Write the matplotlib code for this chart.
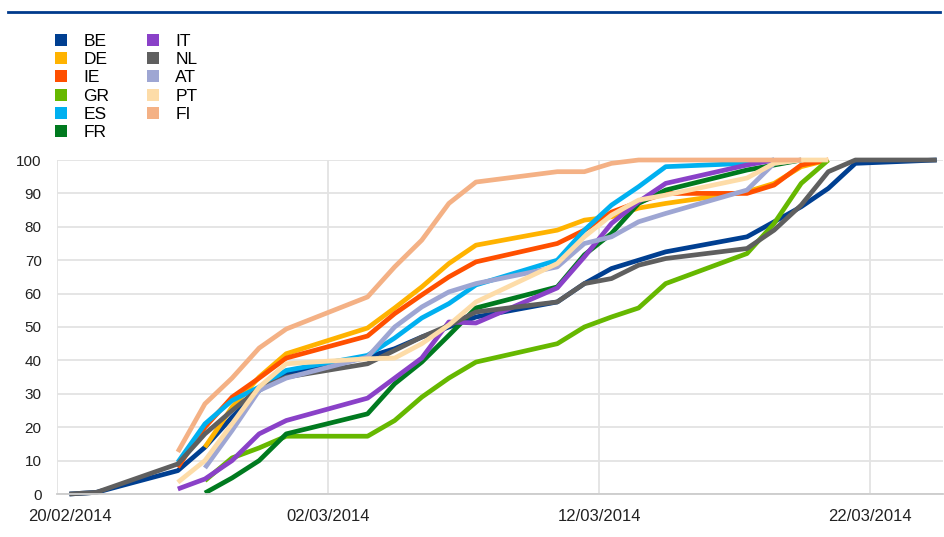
import numpy as np
import pandas as pd
import matplotlib
matplotlib.use('Agg')
import matplotlib.pyplot as plt
import matplotlib.transforms as mtransforms
from matplotlib.lines import Line2D

plt.rcParams['font.family'] = ['Liberation Sans', 'DejaVu Sans']

dates = ['2014-02-20', '2014-02-21', '2014-02-24', '2014-02-25', '2014-02-26',
         '2014-02-27', '2014-02-28', '2014-03-03', '2014-03-04', '2014-03-05',
         '2014-03-06', '2014-03-07', '2014-03-10', '2014-03-11', '2014-03-12',
         '2014-03-13', '2014-03-14', '2014-03-17', '2014-03-18', '2014-03-19',
         '2014-03-20', '2014-03-21', '2014-03-24']
nan = np.nan

BE = [0, 0.5, 7, 14, 23, 31, 36, 41, 43.5, 47, 50, 53, 57.5, 63, 67.5, 70, 72.5, 77, 81.5, 86, 91.5, 99, 100]
DE = [nan, nan, nan, 14, 26, 35, 42, 49.7, 55.7, 62, 69, 74.5, 79, 82, 83, 85.6, 87, 90.5, 93, 98, 100, nan, nan]
IE = [nan, nan, 8, 20, 29, 34.7, 40.7, 47.3, 54, 59.6, 65, 69.5, 75, 79, 84.4, 87.4, 90, 90, 92.5, 98.5, 100, nan, nan]
GR = [nan, nan, nan, 4, 10.8, 13.8, 17.3, 17.3, 22, 29, 34.7, 39.5, 45, 50, 53, 55.7, 63, 72, 81, 93, 100, nan, nan]
ES = [nan, nan, 9.5, 21, 28, 32, 37, 41.5, 46.7, 52.7, 57, 62.6, 70, 79, 86.5, 92, 98, 99, 100, nan, nan, nan, nan]
FR = [nan, nan, nan, 0.3, 4.8, 10, 18, 24, 33, 39.5, 47.5, 55.7, 62, 71.6, 78, 87, 91, 97, 98.5, 100, nan, nan, nan]
IT = [nan, nan, 1.5, 4.5, 10, 18, 22, 28.7, 34.7, 40.7, 51.5, 51.2, 61.7, 71, 81, 87.5, 93, 98.5, 100, nan, nan, nan, nan]
NL = [0, 0.5, 9, 18, 25, 31.5, 35, 39, 43, 47, 50.5, 54.5, 57.5, 63, 64.5, 68.5, 70.5, 73.5, 79, 86.5, 96.5, 100, 100]
AT = [nan, nan, nan, 7.8, 19, 31, 34.7, 41, 50, 56, 60.5, 63, 68, 75, 77, 81.5, 84, 91, 99, 100, nan, nan, nan]
PT = [nan, nan, 3.5, 10, 21, 32, 39, 40.5, 40.7, 45, 50.6, 57.5, 69, 77, 83.5, 88, 89.5, 94.6, 99, 100, 100, nan, nan]
FI = [nan, nan, 12.6, 27, 34.7, 43.7, 49.4, 59, 68, 76, 87, 93.4, 96.5, 96.5, 99, 100, 100, 100, 100, 100, nan, nan, nan]

countries = ['BE', 'DE', 'IE', 'GR', 'ES', 'FR', 'IT', 'NL', 'AT', 'PT', 'FI']
series = [BE, DE, IE, GR, ES, FR, IT, NL, AT, PT, FI]
colors = ['#003f91', '#ffb300', '#ff4f00', '#66b800', '#00b0f0', '#007a1f',
          '#8a41c8', '#5f5f5f', '#9ea6d3', '#fddca8', '#f4b185']

tick_dates = ['2014-02-20', '2014-03-02', '2014-03-12', '2014-03-22']

x = pd.to_datetime(dates) + pd.Timedelta(hours=11)
start = pd.Timestamp('2014-02-20')

fig = plt.figure(figsize=(9.44, 5.37), dpi=100)
ax = fig.add_axes([57 / 944, 43 / 537, 886 / 944, 334 / 537])

for name, vals, c in zip(countries, series, colors):
    ax.plot(x, vals, color=c, lw=3.4, label=name, solid_joinstyle='round',
            solid_capstyle='butt', clip_on=False)

ax.set_xlim(start, start + pd.Timedelta(days=32.69))
ax.set_ylim(0, 100)
ax.set_yticks(np.arange(0, 101, 10))
ax.set_xticks(pd.to_datetime(tick_dates))
ax.set_xticklabels([pd.Timestamp(d).strftime('%d/%m/%Y') for d in tick_dates])
ax.tick_params(axis='both', length=0, colors='#222222')
ax.tick_params(axis='y', pad=11, labelsize=11)
ax.tick_params(axis='x', pad=11, labelsize=12)
ax.grid(True, color='#e3e3e3', lw=1.3)
ax.set_axisbelow(True)
for s in ['top', 'right', 'left']:
    ax.spines[s].set_visible(False)
ax.spines['bottom'].set_color('#cccccc')
ax.spines['bottom'].set_linewidth(1.3)

# first date label is nudged inward like the original
lbl = ax.get_xticklabels()[0]
lbl.set_transform(lbl.get_transform() +
                  mtransforms.ScaledTranslation(13 / 100, 0, fig.dpi_scale_trans))

handles = [Line2D([], [], ls='none', marker='s', markersize=8.5, color=c,
                  markeredgewidth=0) for c in colors]
fig.legend(handles, countries, ncol=2, loc='upper left',
           bbox_to_anchor=(45 / 944, 1 - 25 / 537), frameon=False,
           fontsize=12.5, handlelength=0.9, handletextpad=0.8,
           columnspacing=2.1, labelspacing=0.18, borderpad=0)

fig.add_artist(Line2D([8 / 944, 940 / 944], [1 - 12 / 537] * 2,
                      color='#003a8c', lw=2))

plt.savefig('out.png', dpi=100)
